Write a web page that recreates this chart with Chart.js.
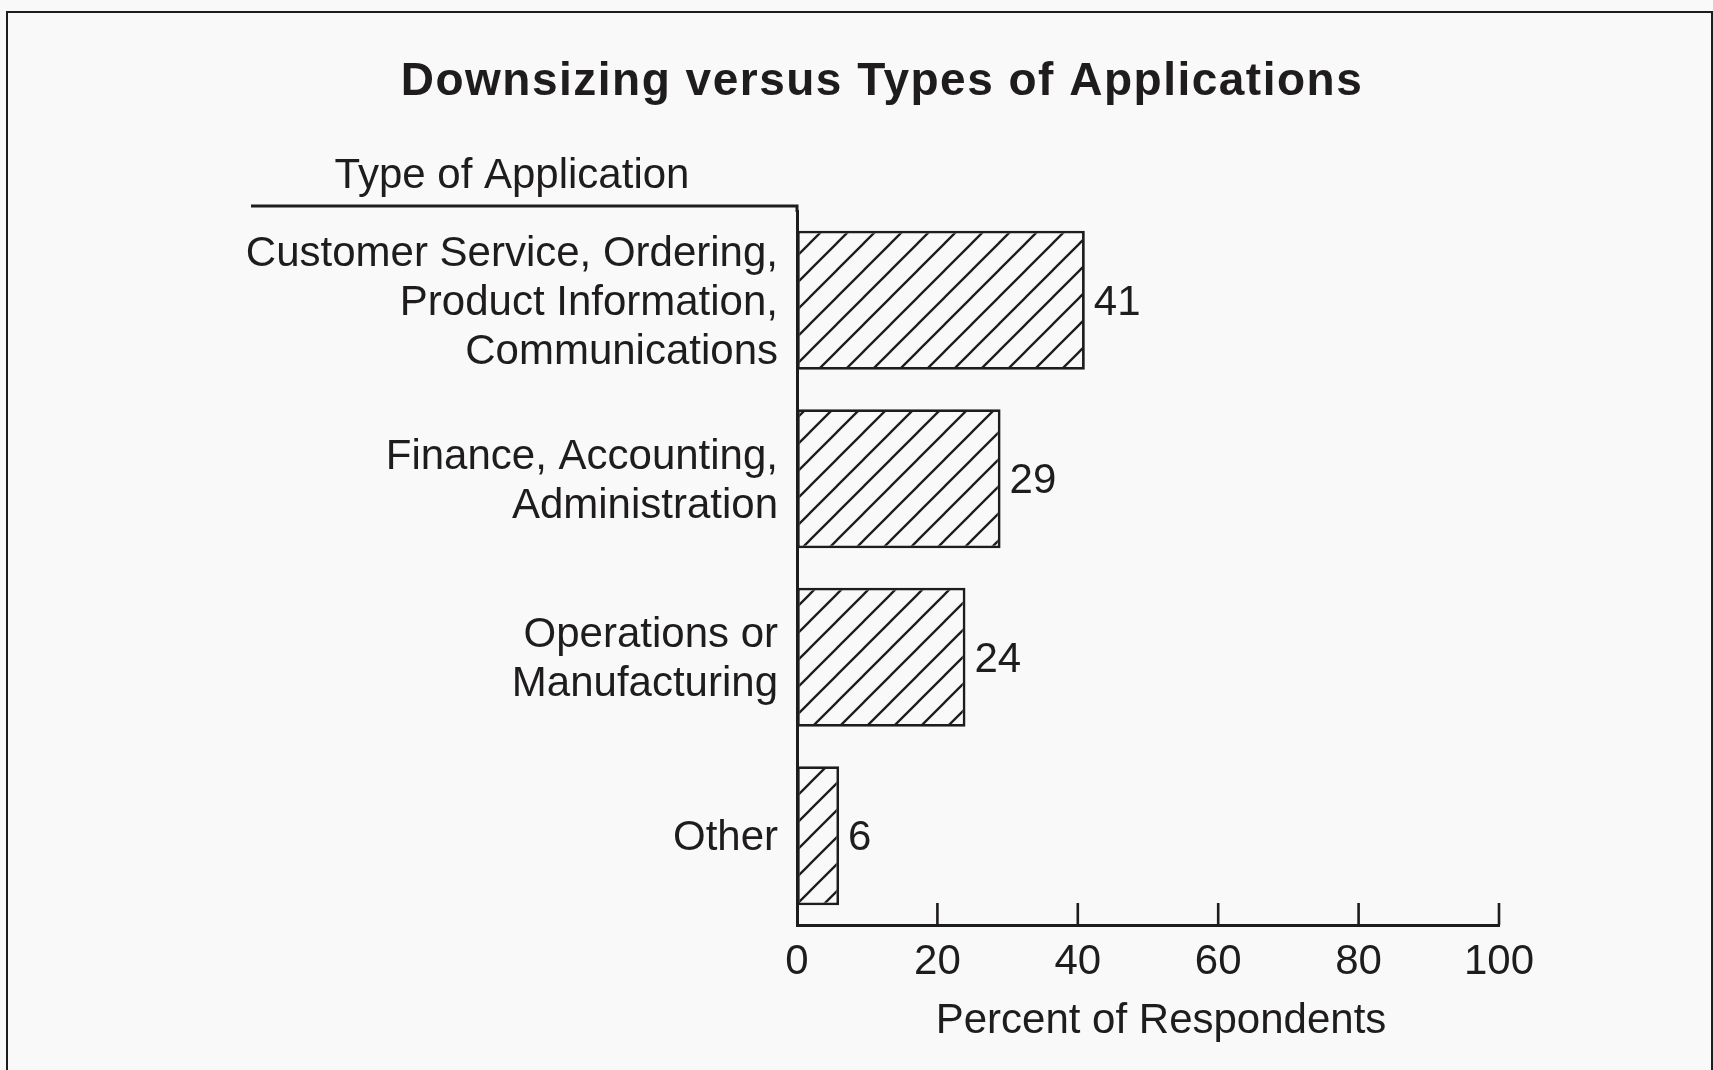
<!DOCTYPE html>
<html>
<head>
<meta charset="utf-8">
<title>Downsizing versus Types of Applications</title>
<script src="https://cdn.jsdelivr.net/npm/chart.js@4.4.1/dist/chart.umd.min.js"></script>
<style>
  html, body { margin: 0; padding: 0; background: #f9f9fa; }
  #chart { display: block; }
</style>
</head>
<body>
<canvas id="chart" width="1713" height="1070"></canvas>
<script>
// Chart data
const categories = [
    ['Customer Service, Ordering,', 'Product Information,', 'Communications'],
    ['Finance, Accounting,', 'Administration'],
    ['Operations or', 'Manufacturing'],
    'Other'
];
const percentValues = [41, 29, 24, 6];
const percentTicks = [0, 20, 40, 60, 80, 100];

const chartTitle = 'Downsizing versus Types of Applications';
const categoryHeader = 'Type of Application';
const valueAxisTitle = 'Percent of Respondents';

const INK = '#1f1c1d';
const PAPER = '#f9f9fa';
const FONT = "'Liberation Sans', Arial, Helvetica, sans-serif";
const TEXT_SIZE = 42;

/**
 * Builds the diagonal hatch fill used for the bars
 */
function makeHatch(ctx) {
    const size = 27;
    const tile = document.createElement('canvas');
    tile.width = size;
    tile.height = size;
    const g = tile.getContext('2d');
    g.fillStyle = PAPER;
    g.fillRect(0, 0, size, size);
    g.strokeStyle = INK;
    g.lineWidth = 2.3;
    g.lineCap = 'square';
    g.beginPath();
    g.moveTo(0, size);
    g.lineTo(size, 0);
    // corner pieces so the stripes join across tiles
    g.moveTo(-4, 4);
    g.lineTo(4, -4);
    g.moveTo(size - 4, size + 4);
    g.lineTo(size + 4, size - 4);
    g.stroke();
    return ctx.createPattern(tile, 'repeat');
}

const canvas = document.getElementById('chart');
const ctx = canvas.getContext('2d');

// Page frame, header rule, titles and inward tick marks
const decorations = {
    id: 'decorations',
    beforeDraw(chart) {
        const c = chart.ctx;
        c.save();
        c.fillStyle = PAPER;
        c.fillRect(0, 0, chart.width, chart.height);
        c.strokeStyle = INK;
        c.lineWidth = 2;
        c.beginPath();
        c.moveTo(7, chart.height);
        c.lineTo(7, 12);
        c.lineTo(1712, 12);
        c.lineTo(1712, chart.height);
        c.stroke();
        c.restore();
    },
    afterDraw(chart) {
        const c = chart.ctx;
        const area = chart.chartArea;
        const xScale = chart.scales.x;
        c.save();
        c.fillStyle = INK;
        c.strokeStyle = INK;

        // main title
        c.font = `bold 46px ${FONT}`;
        c.letterSpacing = '1.5px';
        c.textAlign = 'center';
        c.textBaseline = 'middle';
        c.fillText(chartTitle, 882, 82);
        c.letterSpacing = '0px';

        // category header with its rule
        c.font = `${TEXT_SIZE}px ${FONT}`;
        c.fillText(categoryHeader, 512, 176);
        c.lineWidth = 3;
        c.beginPath();
        c.moveTo(251, 206);
        c.lineTo(area.left, 206);
        c.lineTo(area.left, area.top + 1);
        c.stroke();

        // value axis title sits a little right of the plot centre
        c.fillText(valueAxisTitle, (area.left + area.right) / 2 + 13, 1021);

        // tick marks point up into the plot
        c.lineWidth = 2.6;
        c.beginPath();
        xScale.ticks.forEach(t => {
            if (t.value === 0) return;
            const px = xScale.getPixelForValue(t.value);
            c.moveTo(px, area.bottom);
            c.lineTo(px, area.bottom - 22);
        });
        c.stroke();

        // value labels at the end of each bar
        c.textAlign = 'left';
        const meta = chart.getDatasetMeta(0);
        meta.data.forEach((bar, i) => {
            c.fillText(String(percentValues[i]), bar.x + 9, bar.y + 3);
        });
        c.restore();
    }
};

const chart = new Chart(ctx, {
    type: 'bar',
    data: {
        labels: categories,
        datasets: [{
            data: percentValues,
            backgroundColor: makeHatch(ctx),
            borderColor: INK,
            borderWidth: 2.8,
            borderSkipped: false,
            barPercentage: 0.78,
            categoryPercentage: 1.0
        }]
    },
    options: {
        indexAxis: 'y',
        responsive: false,
        animation: false,
        devicePixelRatio: 1,
        layout: {
            padding: { top: 211, right: 214, bottom: 0, left: 0 }
        },
        plugins: {
            legend: { display: false },
            tooltip: { enabled: false },
            title: { display: false }
        },
        scales: {
            x: {
                type: 'linear',
                min: 0,
                max: 100,
                afterBuildTicks: scale => {
                    scale.ticks = percentTicks.map(v => ({ value: v }));
                },
                afterFit: scale => { scale.height = 145; },
                grid: { display: false, drawTicks: false },
                border: { display: true, color: INK, width: 3 },
                ticks: {
                    autoSkip: false,
                    maxRotation: 0,
                    padding: 12,
                    color: INK,
                    font: { family: FONT, size: TEXT_SIZE, lineHeight: 1.2 }
                }
            },
            y: {
                type: 'category',
                offset: true,
                afterFit: scale => { scale.width = 797; },
                grid: { display: false, drawTicks: false },
                border: { display: true, color: INK, width: 3 },
                ticks: {
                    padding: 19,
                    labelOffset: 3,
                    color: INK,
                    font: { family: FONT, size: TEXT_SIZE, lineHeight: 1.16 }
                }
            }
        }
    },
    plugins: [decorations]
});
</script>
</body>
</html>
